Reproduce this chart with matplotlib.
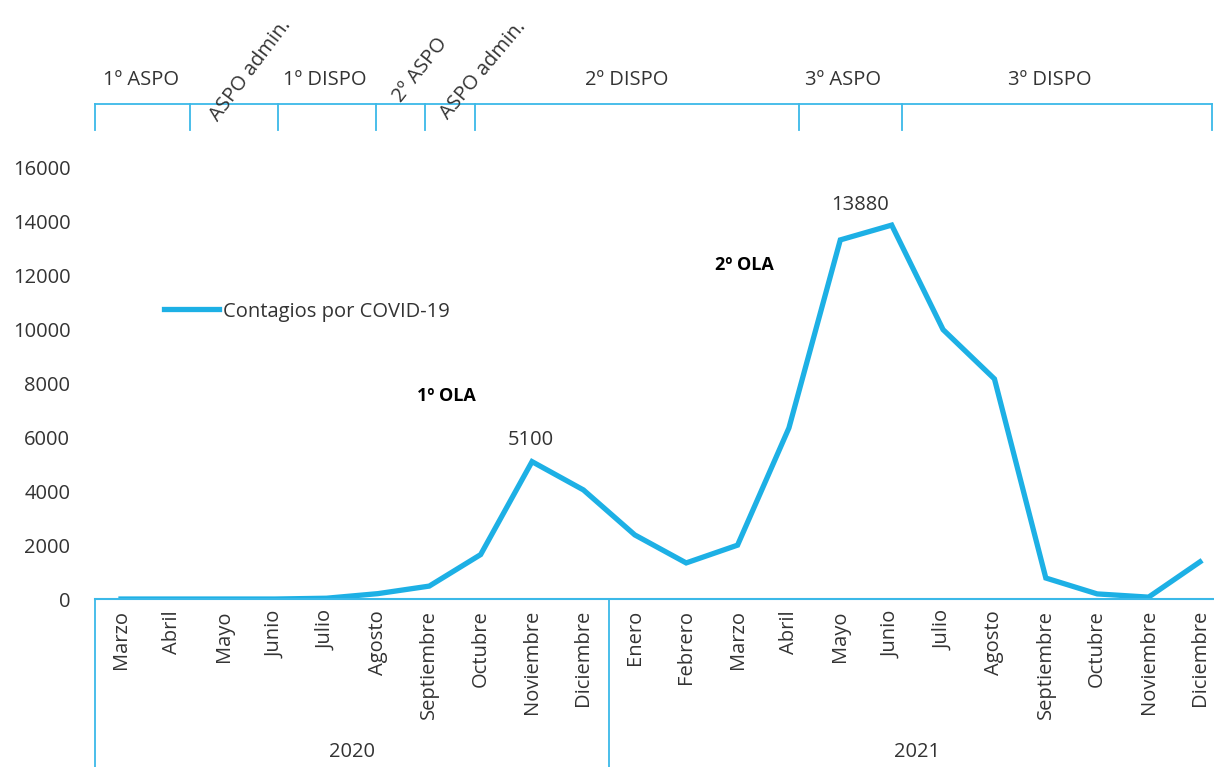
import numpy as np
import matplotlib.pyplot as plt
import matplotlib.transforms as mtransforms

plt.rcParams['font.family'] = ['Open Sans', 'DejaVu Sans']

months_2020 = ['Marzo', 'Abril', 'Mayo', 'Junio', 'Julio', 'Agosto',
               'Septiembre', 'Octubre', 'Noviembre', 'Diciembre']
months_2021 = ['Enero', 'Febrero', 'Marzo', 'Abril', 'Mayo', 'Junio', 'Julio',
               'Agosto', 'Septiembre', 'Octubre', 'Noviembre', 'Diciembre']
years = ['2020', '2021']
contagios = [0, 0, 0, 0, 30, 200, 480, 1650, 5100, 4050,
             2380, 1340, 2000, 6350, 13330, 13880, 10000, 8170, 780, 190, 70, 1380]

# periods: edges in month-index units, labels
period_edges = [-0.5, 1.34, 3.06, 4.96, 5.92, 6.89, 13.2, 15.2, 21.23]
period_labels = ['1º ASPO', 'ASPO admin.', '1º DISPO', '2º ASPO', 'ASPO admin.',
                 '2º DISPO', '3º ASPO', '3º DISPO']
period_label_x = [0.39, 2.53, 3.97, 5.82, 7.05, 9.85, 14.05, 18.08]
period_rot = [0, 53, 0, 52, 50, 0, 0, 0]

blue = '#1DB0E5'
light_blue = '#3BB9E8'
txt = '#333333'
fs = 14.5

fig = plt.figure(figsize=(12.14, 7.67), dpi=100)
ax = fig.add_axes([0.0785, 0.219, 0.9311, 0.562])

x = np.arange(len(contagios))
ax.plot(x, contagios, color=blue, linewidth=3.8, solid_joinstyle='miter',
        label='Contagios por COVID-19')
ax.set_xlim(-0.5, len(contagios) - 0.5)
ax.set_ylim(0, 16000)
ax.set_yticks(np.arange(0, 16001, 2000))
ax.set_xticks(x)
ax.set_xticklabels(months_2020 + months_2021, rotation=90, va='top')
ax.tick_params(axis='y', length=0, pad=18, labelsize=fs, labelcolor=txt)
ax.tick_params(axis='x', length=0, pad=8, labelsize=fs, labelcolor=txt)

for s in ['top', 'right', 'left']:
    ax.spines[s].set_visible(False)
ax.spines['bottom'].set_color(light_blue)
ax.spines['bottom'].set_linewidth(1.5)

# year brackets below axis
trans = mtransforms.blended_transform_factory(ax.transData, ax.transAxes)
for xe in [-0.5, 9.5, 21.5]:
    ax.plot([xe, xe], [0, -0.4], color=light_blue, linewidth=1.3,
            transform=trans, clip_on=False)
ax.text(4.5, -0.355, years[0], transform=trans, ha='center', va='center',
        fontsize=fs, color=txt)
ax.text(15.5, -0.355, years[1], transform=trans, ha='center', va='center',
        fontsize=fs, color=txt)

# top period band
band_y = 18374
ax.plot([period_edges[0], period_edges[-1]], [band_y, band_y], color=light_blue,
        linewidth=1.3, clip_on=False)
for xe in period_edges:
    ax.plot([xe, xe], [band_y, 17410], color=light_blue, linewidth=1.3, clip_on=False)
for lab, lx, rot in zip(period_labels, period_label_x, period_rot):
    ly = 19265 if rot == 0 else 19636
    ax.text(lx, ly, lab, ha='center', va='center', rotation=rot,
            rotation_mode='anchor', fontsize=fs, color=txt, clip_on=False)

# annotations
ax.text(7.98, 5900, '5100', ha='center', va='center', fontsize=fs, color=txt)
ax.text(14.38, 14625, '13880', ha='center', va='center', fontsize=fs, color=txt)
ax.text(6.33, 7535, '1º OLA', ha='center', va='center', fontsize=13,
        fontweight='bold', color='black')
ax.text(12.14, 12400, '2º OLA', ha='center', va='center', fontsize=13,
        fontweight='bold', color='black')

ax.legend(loc='center left', bbox_to_anchor=(0.045, 0.667), frameon=False,
          fontsize=fs, handlelength=2.7, handletextpad=0.2, labelcolor=txt)

fig.savefig('out.png', dpi=100)
